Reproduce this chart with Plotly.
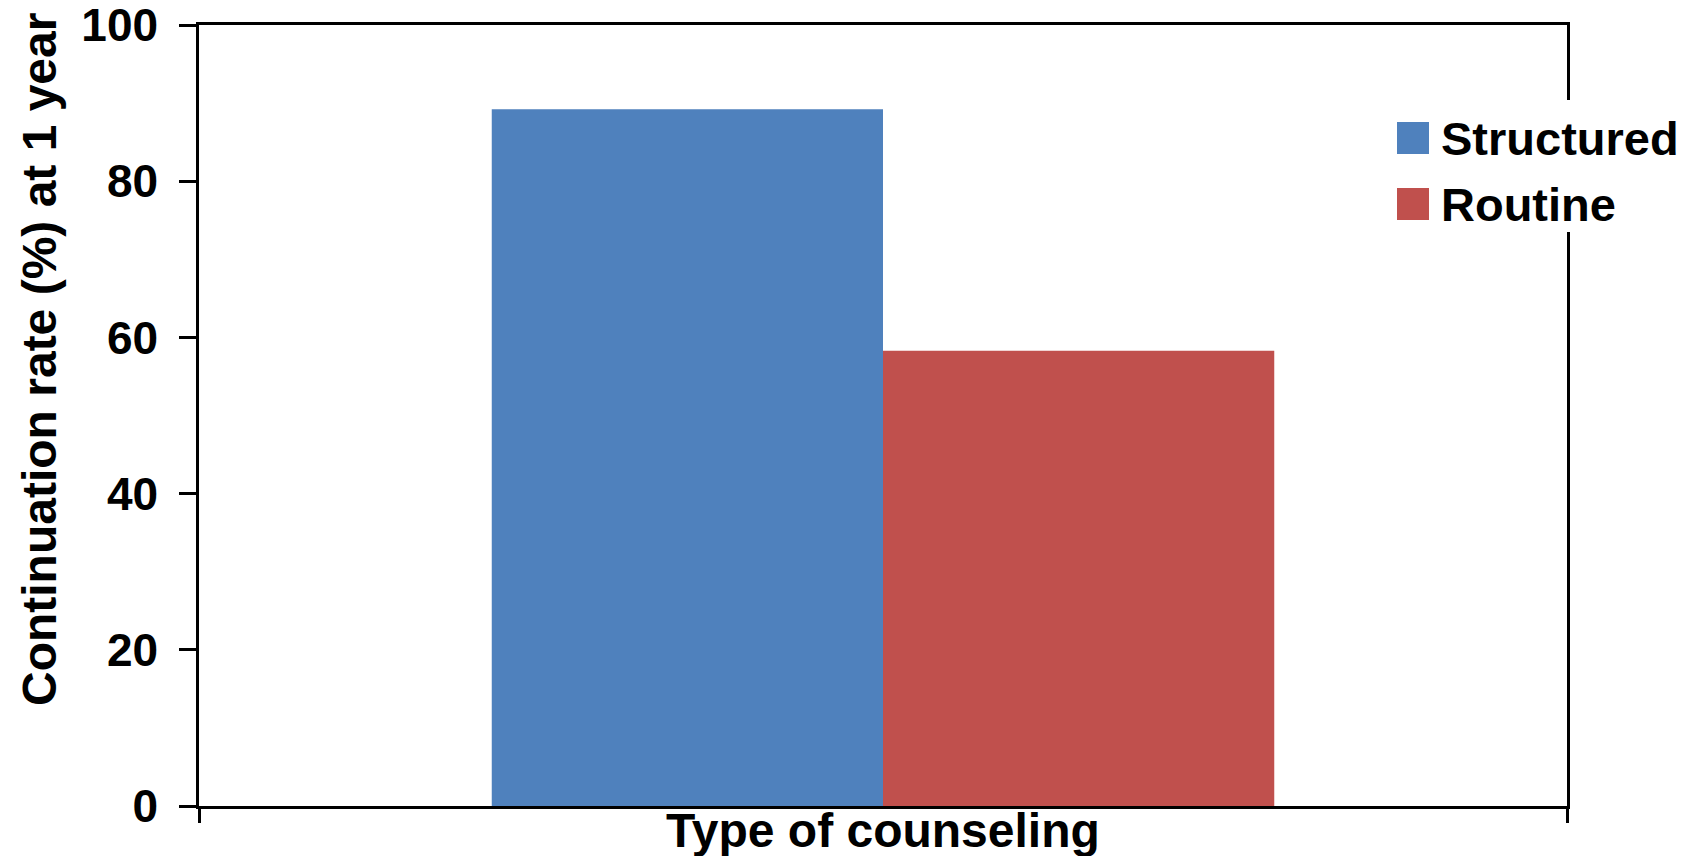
import plotly.graph_objects as go

# Continuation rate at 1 year by type of counseling
category = ["Type of counseling"]
series_names = ["Structured", "Routine"]
series_values = [[89.2], [58.3]]
series_colors = ["#4F81BD", "#C0504D"]
y_ticks = [0, 20, 40, 60, 80, 100]

W, H = 1688, 856
ML, MR, MT, MB = 199, 121, 25, 50
PW, PH = W - ML - MR, H - MT - MB
FONT = "Liberation Sans, Arial, sans-serif"


def px_x(px):
    return (px - ML) / PW


def px_y(py):
    return (H - MB - py) / PH


fig = go.Figure()
for name, vals, col in zip(series_names, series_values, series_colors):
    fig.add_trace(go.Bar(name=name, x=category, y=vals, marker=dict(color=col, line=dict(width=0)),
                         showlegend=False))

# Legend: white panel over the frame, large swatches and labels
shapes = [dict(type="rect", xref="paper", yref="paper", layer="above",
               x0=px_x(1385), x1=px_x(1688), y0=px_y(232), y1=px_y(100),
               fillcolor="white", line=dict(width=0))]
annotations = []
for i, (name, col) in enumerate(zip(series_names, series_colors)):
    top = 122 + 66 * i
    shapes.append(dict(type="rect", xref="paper", yref="paper", layer="above",
                       x0=px_x(1397), x1=px_x(1429), y0=px_y(top + 32), y1=px_y(top),
                       fillcolor=col, line=dict(width=0)))
    annotations.append(dict(text="<b>%s</b>" % name, xref="paper", yref="paper",
                            x=px_x(1439), y=px_y(top + 16), xanchor="left", yanchor="middle",
                            showarrow=False, font=dict(family=FONT, size=47, color="black")))

# Axis titles
annotations.append(dict(text="<b>Type of counseling</b>", xref="paper", yref="paper",
                        x=0.5, y=px_y(830), xanchor="center", yanchor="middle",
                        showarrow=False, font=dict(family=FONT, size=48, color="black")))
annotations.append(dict(text="<b>Continuation rate (%) at 1 year</b>", xref="paper", yref="paper",
                        x=px_x(39), y=px_y(360), xanchor="center", yanchor="middle", textangle=-90,
                        showarrow=False, font=dict(family=FONT, size=48, color="black")))

fig.update_layout(
    width=W, height=H,
    margin=dict(l=ML, r=MR, t=MT, b=MB, pad=0, autoexpand=False),
    paper_bgcolor="white", plot_bgcolor="white",
    barmode="group", bargap=0.428, bargroupgap=0,
    shapes=shapes, annotations=annotations,
    font=dict(family=FONT, color="black"),
)
fig.update_xaxes(
    type="category", showticklabels=False, ticks="outside", tickson="boundaries",
    ticklen=14, tickwidth=2.5, tickcolor="black", automargin=False,
    showline=True, linecolor="black", linewidth=2.5, mirror=True, showgrid=False,
)
fig.update_yaxes(
    range=[0, 100], tickvals=y_ticks, ticktext=["<b>%d</b>" % v for v in y_ticks],
    ticks="outside", ticklen=17, tickwidth=2.5, tickcolor="black",
    tickfont=dict(family=FONT, size=46, color="black"),
    ticklabelstandoff=12, ticklabeloverflow="allow", automargin=False,
    showline=True, linecolor="black", linewidth=2.5, mirror=True,
    showgrid=False, zeroline=False,
)

fig.write_html("out.html")
